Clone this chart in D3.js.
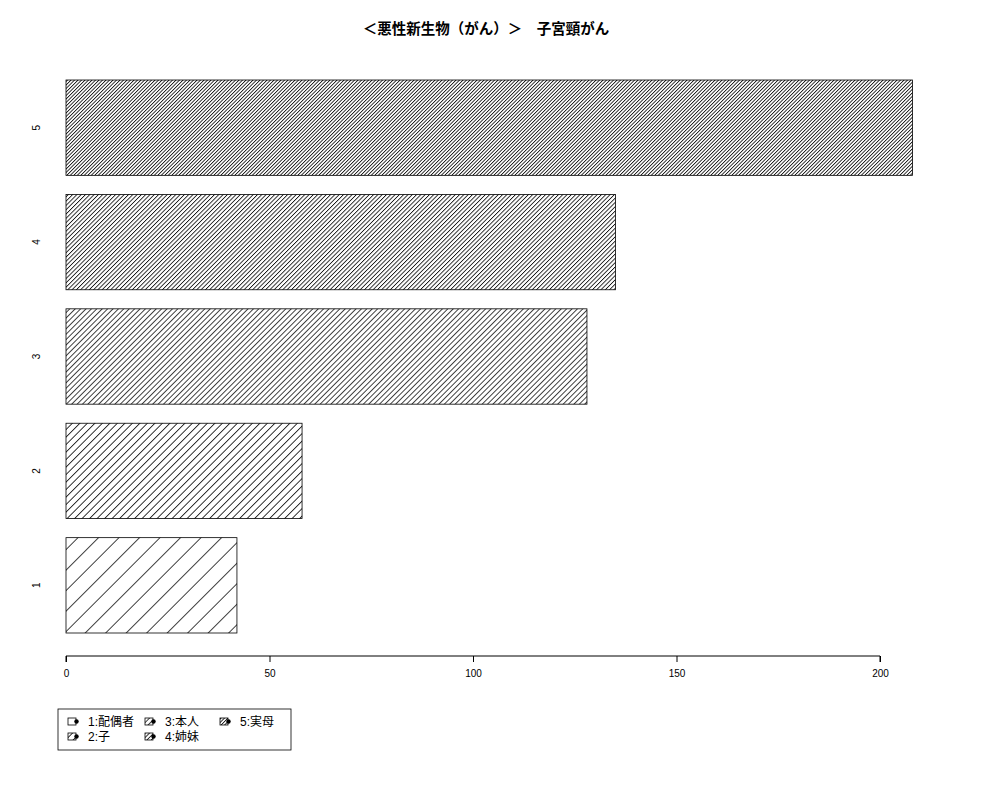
<!DOCTYPE html>
<html>
<head>
<meta charset="utf-8">
<script src="https://cdn.jsdelivr.net/npm/d3@7"></script>
<style>
  body { margin: 0; background: #fff; }
  text { font-family: "Liberation Sans", "Noto Sans CJK JP", sans-serif; }
</style>
</head>
<body>
<div id="chart"></div>
<script>
// data
const categories = ['1', '2', '3', '4', '5'];
const values = [42, 58, 128, 135, 208];
const legendLabels = ['1:配偶者', '2:子', '3:本人', '4:姉妹', '5:実母'];
const xTicks = [0, 50, 100, 150, 200];
const title = '＜悪性新生物（がん）＞　子宮頸がん';

// hatch spacing (horizontal px) per bar, style only
const hatchStep = [20.5, 7.5, 5.4, 4.3, 3.5];

const width = 1000, height = 800;
const svg = d3.select('#chart').append('svg')
    .attr('width', width)
    .attr('height', height);

const defs = svg.append('defs');
hatchStep.forEach((s, i) => {
    const p = s / Math.SQRT2;
    const pat = defs.append('pattern')
        .attr('id', 'hatch' + i)
        .attr('patternUnits', 'userSpaceOnUse')
        .attr('width', p)
        .attr('height', 10)
        .attr('patternTransform', 'rotate(45)');
    pat.append('line')
        .attr('x1', 0.4).attr('y1', 0)
        .attr('x2', 0.4).attr('y2', 10)
        .attr('stroke', '#111')
        .attr('stroke-width', 0.9);
});

// scales (R barplot style units: width 1, space 0.2)
const x = d3.scaleLinear().domain([0, 200]).range([66, 880]);
const y = d3.scaleLinear().domain([0.2, 6.0]).range([633, 80]);

const barBottom = i => 0.2 + 1.2 * i;

svg.selectAll('.bar')
    .data(values)
    .enter()
    .append('rect')
    .attr('class', 'bar')
    .attr('x', x(0))
    .attr('y', (d, i) => y(barBottom(i) + 1))
    .attr('width', d => x(d) - x(0))
    .attr('height', (d, i) => y(barBottom(i)) - y(barBottom(i) + 1))
    .attr('fill', (d, i) => `url(#hatch${i})`)
    .attr('stroke', '#000')
    .attr('stroke-width', 0.8);

// y labels
svg.selectAll('.ylab')
    .data(categories)
    .enter()
    .append('text')
    .attr('class', 'ylab')
    .attr('transform', (d, i) => `translate(40,${y(barBottom(i) + 0.5)}) rotate(-90)`)
    .attr('text-anchor', 'middle')
    .attr('font-size', 10)
    .text(d => d);

// x axis
const axisY = 656;
const axis = d3.axisBottom(x)
    .tickValues(xTicks)
    .tickSize(6)
    .tickPadding(8)
    .tickFormat(d3.format('d'));
const gx = svg.append('g')
    .attr('transform', `translate(0,${axisY})`)
    .call(axis);
gx.select('.domain').attr('d', `M${x(0)},6V0H${x(200)}V6`).attr('stroke', '#000');
gx.selectAll('.tick line').attr('stroke', '#000');
gx.selectAll('.tick text')
    .attr('font-size', 10)
    .attr('font-family', '"Liberation Sans", sans-serif')
    .attr('fill', '#000');

// title
svg.append('text')
    .attr('x', 486)
    .attr('y', 34)
    .attr('text-anchor', 'middle')
    .attr('font-size', 14.5)
    .attr('font-weight', 'bold')
    .text(title);

// legend
const legend = svg.append('g');
legend.append('rect')
    .attr('x', 58).attr('y', 709)
    .attr('width', 233).attr('height', 41)
    .attr('fill', 'none')
    .attr('stroke', '#000')
    .attr('stroke-width', 0.8);

const colX = [68, 145, 220];
const rowY = [722, 737];
legendLabels.forEach((lab, i) => {
    const cx = colX[Math.floor(i / 2)];
    const cy = rowY[i % 2];
    const g = legend.append('g').attr('transform', `translate(${cx},${cy})`);
    g.append('rect')
        .attr('x', 0).attr('y', -4)
        .attr('width', 8).attr('height', 7)
        .attr('fill', i === 0 ? '#fff' : `url(#hatch${i})`)
        .attr('stroke', '#000')
        .attr('stroke-width', 0.8);
    g.append('circle')
        .attr('cx', 8.5).attr('cy', -0.5)
        .attr('r', 2.2)
        .attr('fill', '#000');
    g.append('text')
        .attr('x', 20)
        .attr('y', 4)
        .attr('font-size', 12)
        .text(lab);
});
</script>
</body>
</html>
